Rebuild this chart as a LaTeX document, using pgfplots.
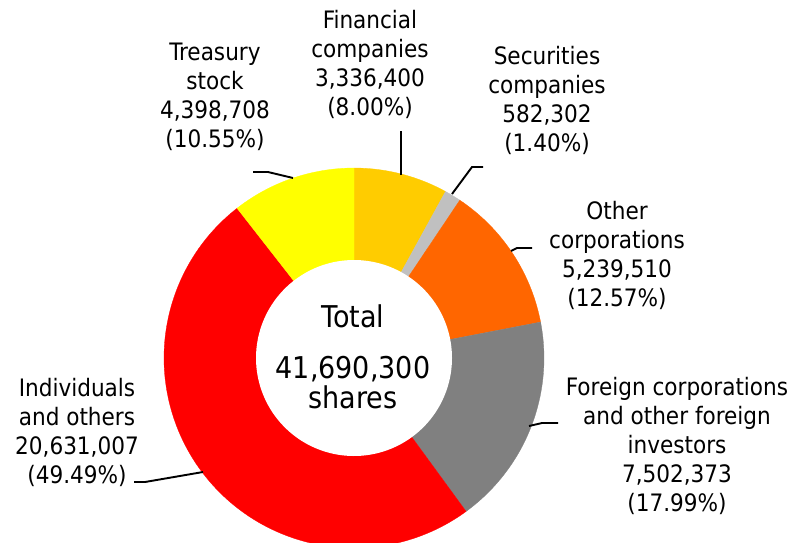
\documentclass[border=0pt]{standalone}
\usepackage{pgfplots}
\pgfplotsset{compat=1.18}
\usepackage{fontspec}
\setmainfont{DejaVu Sans Condensed}
\definecolor{cF}{HTML}{FFCC00}
\definecolor{cS}{HTML}{C0C0C0}
\definecolor{cO}{HTML}{FF6600}
\definecolor{cFo}{HTML}{808080}
\definecolor{cI}{HTML}{FF0000}
\definecolor{cT}{HTML}{FFFF00}
% shares: 3336400, 582302, 5239510, 7502373, 20631007, 4398708 (total 41690300)
\def\pF{8.00}\def\pS{1.40}\def\pO{12.57}\def\pFo{17.99}\def\pI{49.49}\def\pT{10.55}
\newcommand\lbf{\fontsize{24}{29}\selectfont}
\newcommand\lab[3]{\node[anchor=base,font=\lbf,inner sep=0pt] at (axis cs:#1,#2) {#3};}
\begin{document}
\begin{tikzpicture}
\pgfmathsetmacro\cA{0}
\pgfmathsetmacro\cB{\cA+\pF}
\pgfmathsetmacro\cC{\cB+\pS}
\pgfmathsetmacro\cD{\cC+\pO}
\pgfmathsetmacro\cE{\cD+\pFo}
\pgfmathsetmacro\cG{\cE+\pI}
\pgfmathsetmacro\cH{\cG+\pT}
\pgfmathsetmacro\aA{90-3.6*\cA}
\pgfmathsetmacro\aB{90-3.6*\cB}
\pgfmathsetmacro\aC{90-3.6*\cC}
\pgfmathsetmacro\aD{90-3.6*\cD}
\pgfmathsetmacro\aE{90-3.6*\cE}
\pgfmathsetmacro\aG{90-3.6*\cG}
\pgfmathsetmacro\aH{90-3.6*\cH}
\path[use as bounding box] (0,0) rectangle (794pt,542pt);
\begin{axis}[at={(0,0)}, anchor=south west, width=794pt, height=542pt,
  scale only axis, xmin=0, xmax=794, ymin=0, ymax=542, y dir=reverse,
  hide axis, clip=true]
\addplot[fill=cF, draw=cF, line width=0.3pt, domain=\aB:\aA, samples=60, variable=\t]
  ({354+190*cos(\t)},{358-190*sin(\t)}) -- (axis cs:354,358) -- cycle;
\addplot[fill=cS, draw=cS, line width=0.3pt, domain=\aC:\aB, samples=20, variable=\t]
  ({354+190*cos(\t)},{358-190*sin(\t)}) -- (axis cs:354,358) -- cycle;
\addplot[fill=cO, draw=cO, line width=0.3pt, domain=\aD:\aC, samples=60, variable=\t]
  ({354+190*cos(\t)},{358-190*sin(\t)}) -- (axis cs:354,358) -- cycle;
\addplot[fill=cFo, draw=cFo, line width=0.3pt, domain=\aE:\aD, samples=80, variable=\t]
  ({354+190*cos(\t)},{358-190*sin(\t)}) -- (axis cs:354,358) -- cycle;
\addplot[fill=cI, draw=cI, line width=0.3pt, domain=\aG:\aE, samples=160, variable=\t]
  ({354+190*cos(\t)},{358-190*sin(\t)}) -- (axis cs:354,358) -- cycle;
\addplot[fill=cT, draw=cT, line width=0.3pt, domain=\aH:\aG, samples=60, variable=\t]
  ({354+190*cos(\t)},{358-190*sin(\t)}) -- (axis cs:354,358) -- cycle;
\addplot[fill=white, draw=none, domain=0:360, samples=160, variable=\t]
  ({354+98*cos(\t)},{358-98*sin(\t)}) -- cycle;
% leader lines
\addplot[black, line width=1.9pt] coordinates {(401,131) (401,175)};
\addplot[black, line width=1.9pt] coordinates {(452,194) (472,167) (483,167)};
\addplot[black, line width=1.9pt] coordinates {(511,251) (517,248) (532,248)};
\addplot[black, line width=1.9pt] coordinates {(529,426) (542,423) (558,423)};
\addplot[black, line width=1.9pt] coordinates {(134,482) (145,482) (203,472)};
\addplot[black, line width=1.9pt] coordinates {(253,172) (268,172) (293,178)};
% centre text
\node[anchor=base,font=\fontsize{30}{34}\selectfont,inner sep=0pt] at (axis cs:353,327) {Total};
\node[anchor=base,font=\fontsize{30}{34}\selectfont,inner sep=0pt] at (axis cs:353,378) {41,690,300};
\node[anchor=base,font=\fontsize{30}{34}\selectfont,inner sep=0pt] at (axis cs:353,408) {shares};
% labels
\lab{370}{28}{Financial}
\lab{370}{57}{companies}
\lab{370}{86}{3,336,400}
\lab{370}{115}{(8.00\%)}
\lab{547}{64}{Securities}
\lab{547}{93}{companies}
\lab{547}{122}{582,302}
\lab{547}{151}{(1.40\%)}
\lab{617}{219}{Other}
\lab{617}{248}{corporations}
\lab{617}{277}{5,239,510}
\lab{617}{306}{(12.57\%)}
\lab{677}{395}{Foreign corporations}
\lab{677}{424}{and other foreign}
\lab{677}{453}{investors}
\lab{677}{482}{7,502,373}
\lab{677}{511}{(17.99\%)}
\lab{77}{396}{Individuals}
\lab{77}{425}{and others}
\lab{77}{454}{20,631,007}
\lab{77}{483}{(49.49\%)}
\lab{215}{60}{Treasury}
\lab{215}{89}{stock}
\lab{215}{118}{4,398,708}
\lab{215}{147}{(10.55\%)}
\end{axis}
\end{tikzpicture}
\end{document}
